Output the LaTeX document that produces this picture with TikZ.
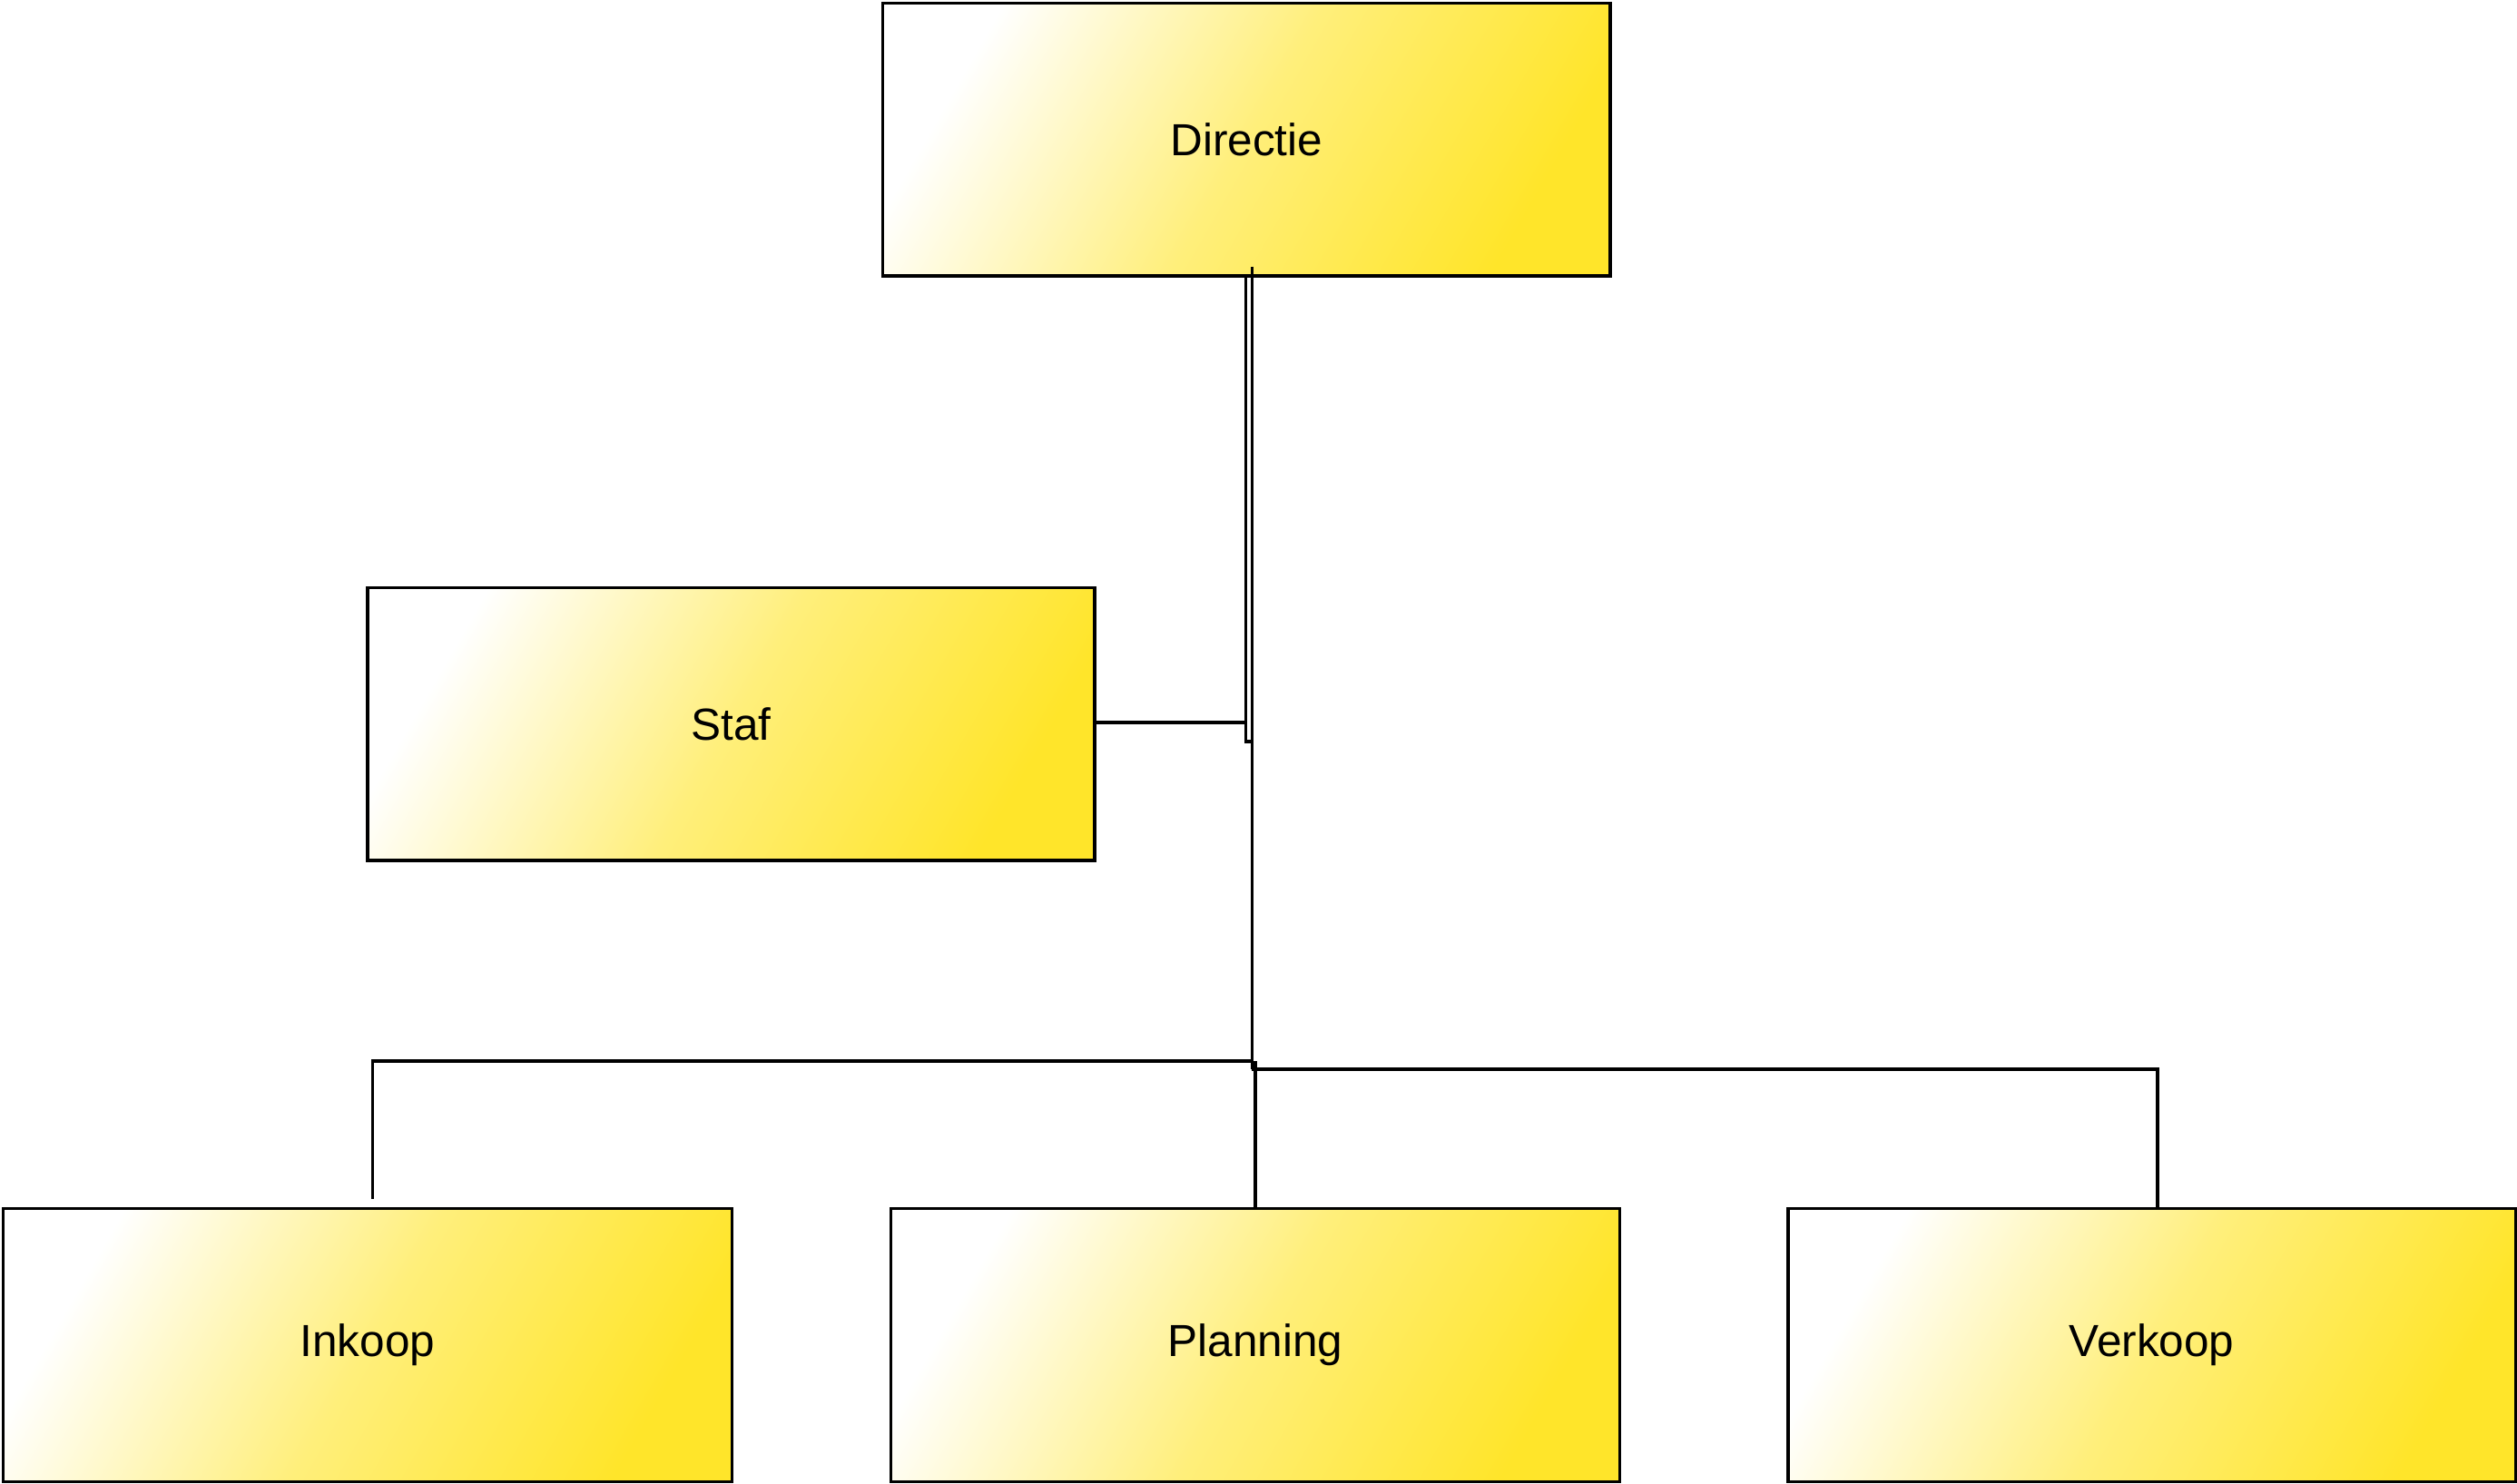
\documentclass[tikz,border=0pt]{standalone}
\usepackage{fontspec}
\setmainfont{Liberation Sans}
\definecolor{yel}{HTML}{FFE52A}
\begin{document}
\begin{tikzpicture}[x=1pt,y=-1pt,
  box/.style={draw=black,line width=2pt,left color=white,right color=yel,middle color=yel!62,shading angle=60,minimum width=453pt,minimum height=170pt,anchor=north west,inner sep=0pt,font=\fontsize{28}{33}\selectfont},
  ln/.style={line width=2pt}]
\useasboundingbox (0,0) rectangle (1568,924);
\node[box] (dir) at (549,1) {Directie};
\node[box] (staf) at (228,365) {Staf};
\node[box,minimum width=454pt] (ink) at (1,752) {Inkoop};
\node[box,minimum width=454pt] (plan) at (554,752) {Planning};
\node[box] (verk) at (1113,752) {Verkoop};
\coordinate (j) at (780,462);
\draw[ln] (776,171) -- (776,450) -- (staf.east |- 0,450);
\draw[ln] (780,166) -- (j) -- (776,462) -- (776,450);
\draw[ln] (j) -- (780,666);
\draw[ln] (780,661) -- (232,661) -- (232,747);
\draw[ln] (plan.north |- 0,661) -- (plan.north);
\draw[ln] (780,666) -- (1344,666) -- (verk.north -| 1344,0);
\end{tikzpicture}
\end{document}
